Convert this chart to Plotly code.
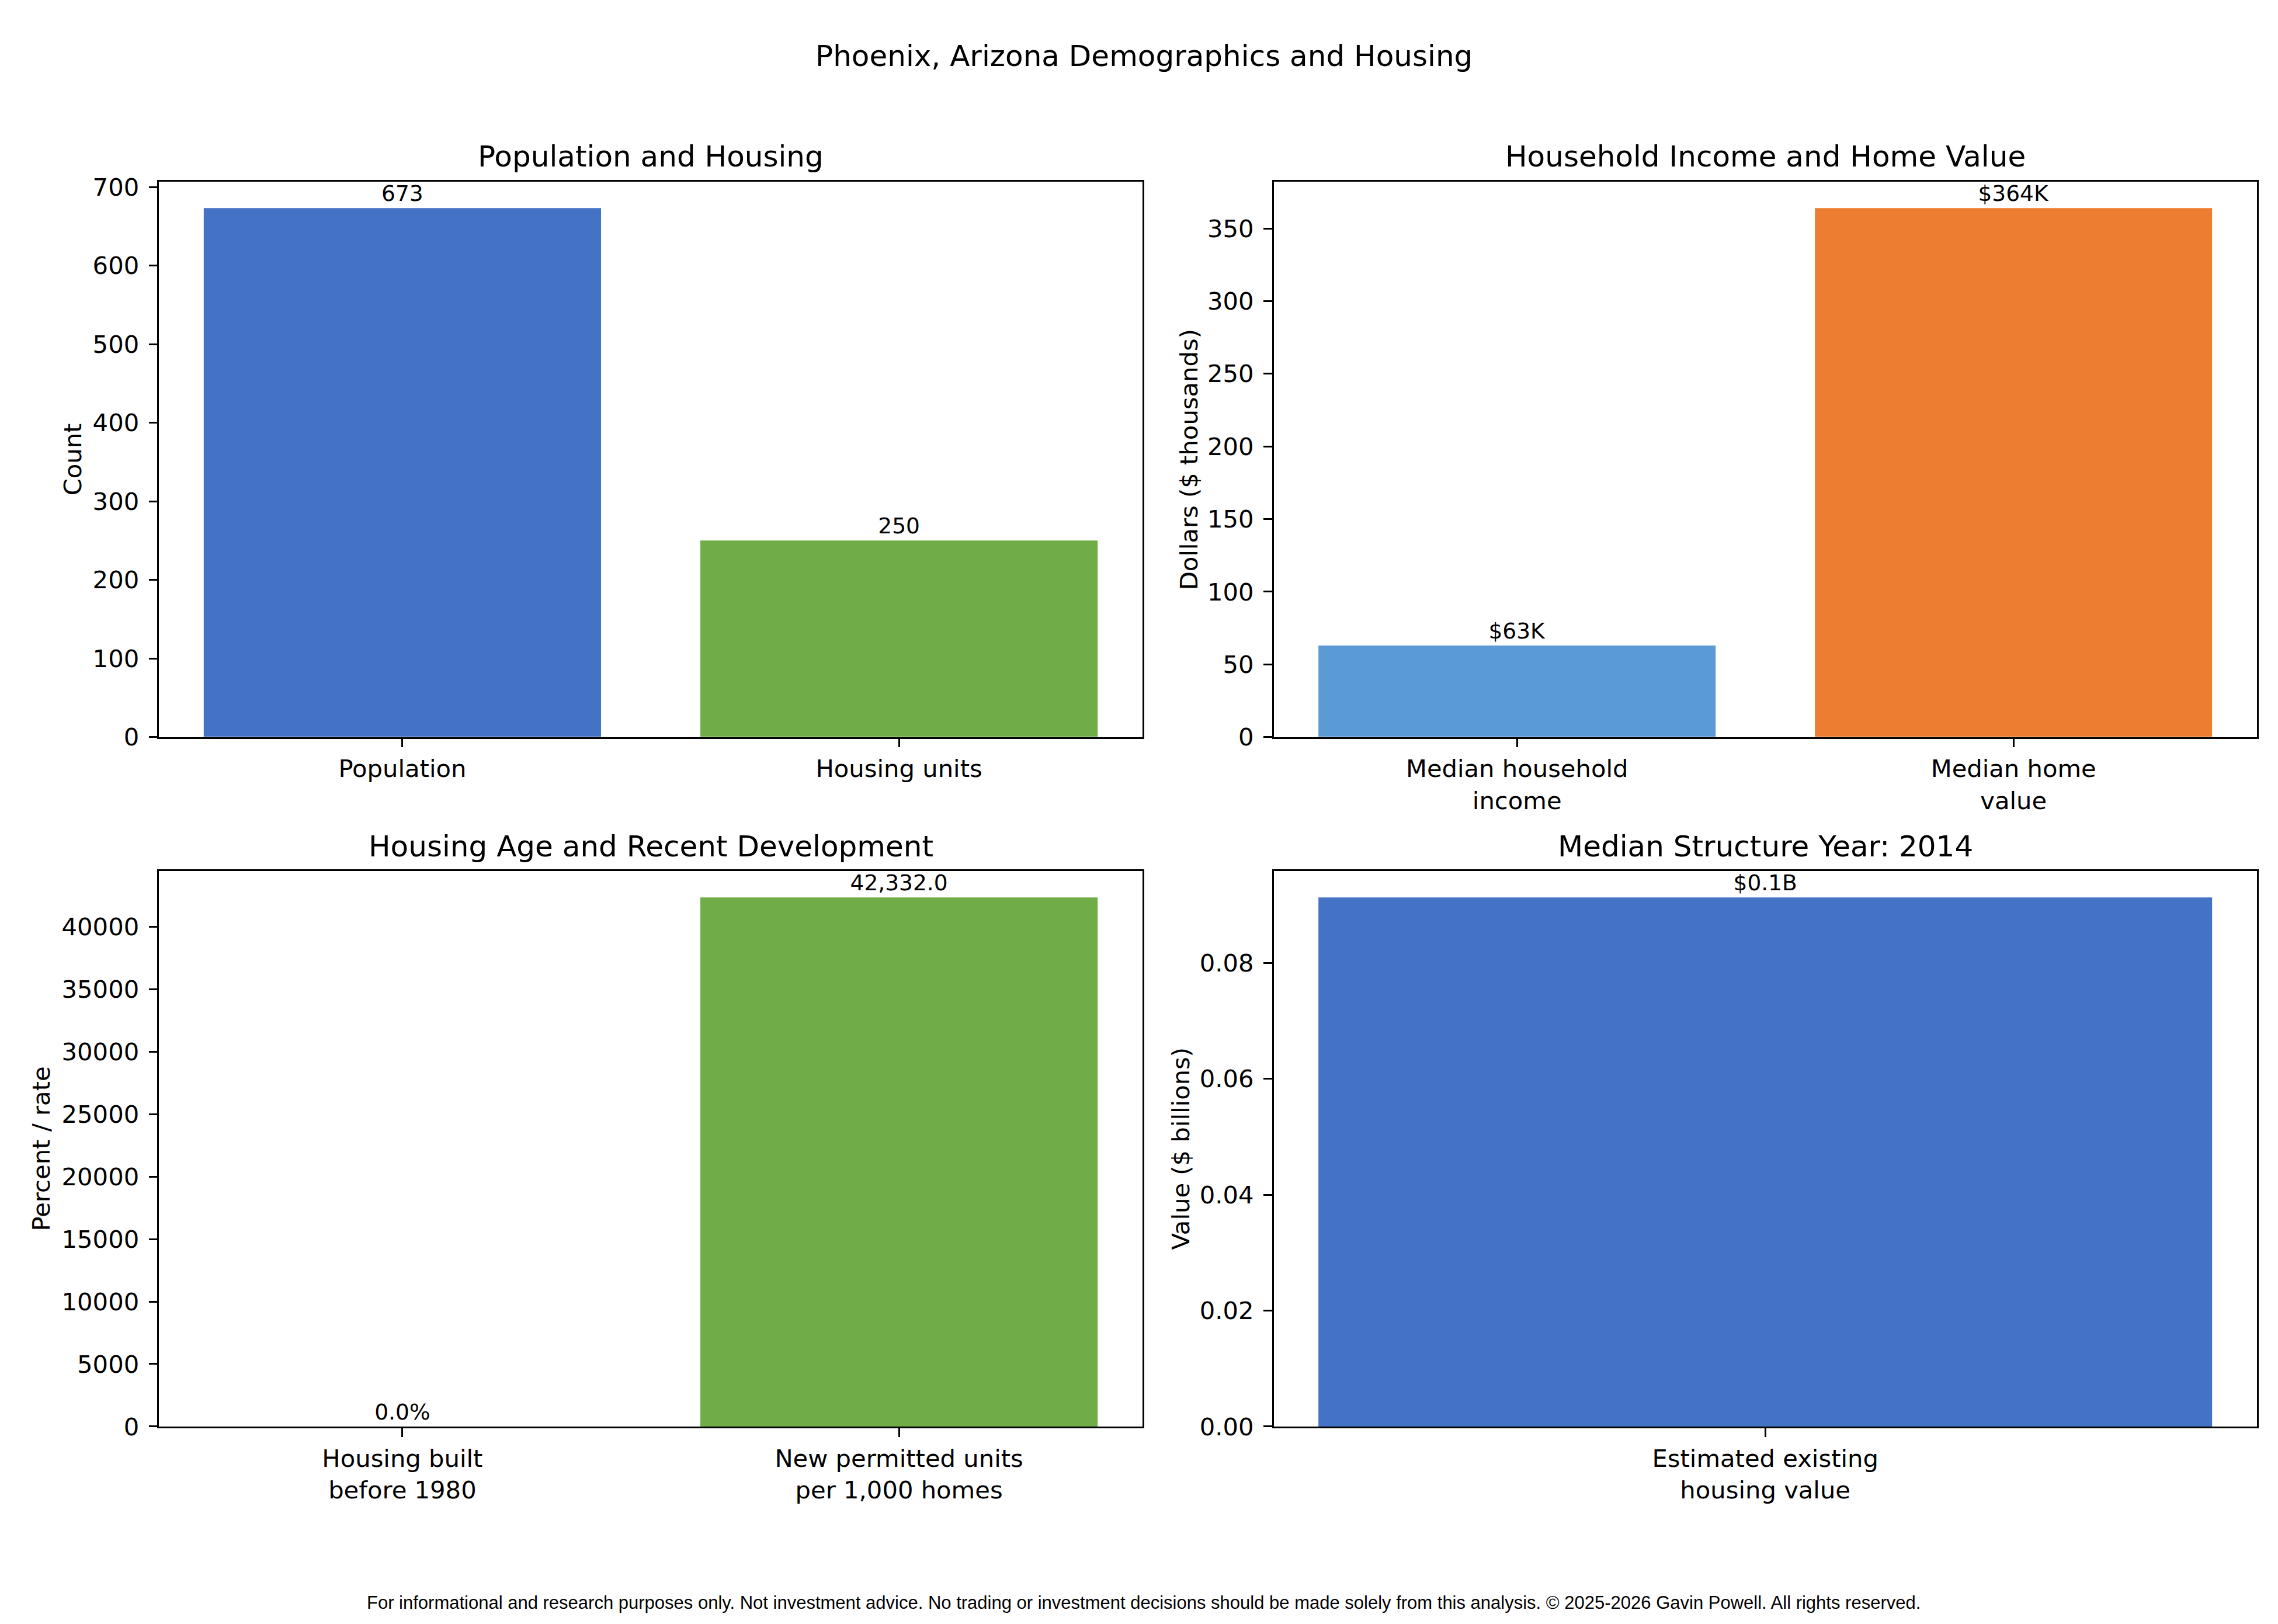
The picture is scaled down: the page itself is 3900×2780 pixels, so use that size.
import plotly.graph_objects as go

W, H = 3900, 2780

# ---- data ----
pop_cats = ["Population", "Housing units"]
pop_vals = [673, 250]
pop_text = ["673", "250"]

inc_cats = ["Median household<br>income", "Median home<br>value"]
inc_vals = [63, 364]
inc_text = ["$63K", "$364K"]

age_cats = ["Housing built<br>before 1980", "New permitted units<br>per 1,000 homes"]
age_vals = [0.0, 42332.0]
age_text = ["0.0%", "42,332.0"]

val_cats = ["Estimated existing<br>housing value"]
val_vals = [0.0913]
val_text = ["$0.1B"]

titles = ["Population and Housing", "Household Income and Home Value",
          "Housing Age and Recent Development", "Median Structure Year: 2014"]
ylabels = ["Count", "Dollars ($ thousands)", "Percent / rate", "Value ($ billions)"]

BLUE, GREEN, LBLUE, ORANGE = "#4472C4", "#70AD47", "#5B9BD5", "#ED7D31"

FONT = "DejaVu Sans"
TICK = 41.7
TITLE = 50
LABEL = 37.5
LW = 3.33

# axes domains (paper fractions)
xl = [264.3 / W, 1947.7 / W]
xr = [2172.7 / W, 3855.7 / W]
yt = [1 - 1256.7 / H, 1 - 292.3 / H]
yb = [1 - 2454.3 / H, 1 - 1489.3 / H]

fig = go.Figure()

panels = [
    (pop_cats, pop_vals, pop_text, [BLUE, GREEN], "x", "y"),
    (inc_cats, inc_vals, inc_text, [LBLUE, ORANGE], "x2", "y2"),
    (age_cats, age_vals, age_text, [BLUE, GREEN], "x3", "y3"),
    (val_cats, val_vals, val_text, [BLUE], "x4", "y4"),
]
for cats, vals, txt, cols, xa, ya in panels:
    fig.add_trace(go.Bar(
        x=cats, y=vals, text=txt, textposition="outside",
        textfont=dict(family=FONT, size=LABEL, color="black"),
        marker=dict(color=cols, line=dict(width=0)),
        width=0.8, cliponaxis=False, constraintext="none",
        xaxis=xa, yaxis=ya, showlegend=False, hoverinfo="skip",
    ))

def xaxis(domain, anchor, n):
    m = 0.05 * (n - 1 + 0.8)
    return dict(domain=domain, anchor=anchor, type="category",
                range=[-0.4 - m, n - 1 + 0.4 + m],
                showline=True, mirror=True, linecolor="black", linewidth=LW,
                ticks="outside", ticklen=14.6, tickwidth=LW, tickcolor="black",
                showgrid=False, zeroline=False, ticklabelstandoff=1,
                tickfont=dict(family=FONT, size=TICK, color="black"))

def yaxis(domain, anchor, vmax, dtick, fmt):
    return dict(domain=domain, anchor=anchor, range=[0, vmax * 1.05],
                dtick=dtick, tick0=0, tickformat=fmt,
                showline=True, mirror=True, linecolor="black", linewidth=LW,
                ticks="outside", ticklen=14.6, tickwidth=LW, tickcolor="black",
                showgrid=False, zeroline=False, ticklabelstandoff=8,
                tickfont=dict(family=FONT, size=TICK, color="black"))

fig.update_layout(
    xaxis=xaxis(xl, "y", len(pop_cats)),
    yaxis=yaxis(yt, "x", max(pop_vals), 100, "d"),
    xaxis2=xaxis(xr, "y2", len(inc_cats)),
    yaxis2=yaxis(yt, "x2", max(inc_vals), 50, "d"),
    xaxis3=xaxis(xl, "y3", len(age_cats)),
    yaxis3=yaxis(yb, "x3", max(age_vals), 5000, "d"),
    xaxis4=xaxis(xr, "y4", len(val_cats)),
    yaxis4=yaxis(yb, "x4", max(val_vals), 0.02, ".2f"),
)

ann = []
# subplot titles
for t, dom, yc in [(titles[0], xl, 249), (titles[1], xr, 249),
                   (titles[2], xl, 1447), (titles[3], xr, 1447)]:
    ann.append(dict(text=t, x=(dom[0] + dom[1]) / 2, y=1 - yc / H,
                    xref="paper", yref="paper", xanchor="center", yanchor="middle",
                    showarrow=False, font=dict(family=FONT, size=TITLE, color="black")))
# y-axis labels
for t, xp, dom in [(ylabels[0], 116, yt), (ylabels[1], 2027, yt),
                   (ylabels[2], 62, yb), (ylabels[3], 2013, yb)]:
    ann.append(dict(text=t, x=xp / W, y=(dom[0] + dom[1]) / 2, textangle=-90,
                    xref="paper", yref="paper", xanchor="center", yanchor="middle",
                    showarrow=False, font=dict(family=FONT, size=TICK, color="black")))
# suptitle
ann.append(dict(text="Phoenix, Arizona Demographics and Housing", x=0.5, y=1 - 74 / H,
                xref="paper", yref="paper", xanchor="center", yanchor="middle",
                showarrow=False, font=dict(family=FONT, size=TITLE, color="black")))
# footer
ann.append(dict(text="For informational and research purposes only. Not investment advice. "
                     "No trading or investment decisions should be made solely from this analysis. "
                     "\u00a9 2025-2026 Gavin Powell. All rights reserved.",
                x=0.5, y=1 - 2760 / H, xref="paper", yref="paper",
                xanchor="center", yanchor="middle", showarrow=False,
                font=dict(family="Liberation Sans", size=31, color="black")))

fig.update_layout(
    width=W, height=H, margin=dict(l=0, r=0, t=0, b=0),
    paper_bgcolor="white", plot_bgcolor="white",
    annotations=ann, bargap=0.2,
)

fig.write_html("out.html")
